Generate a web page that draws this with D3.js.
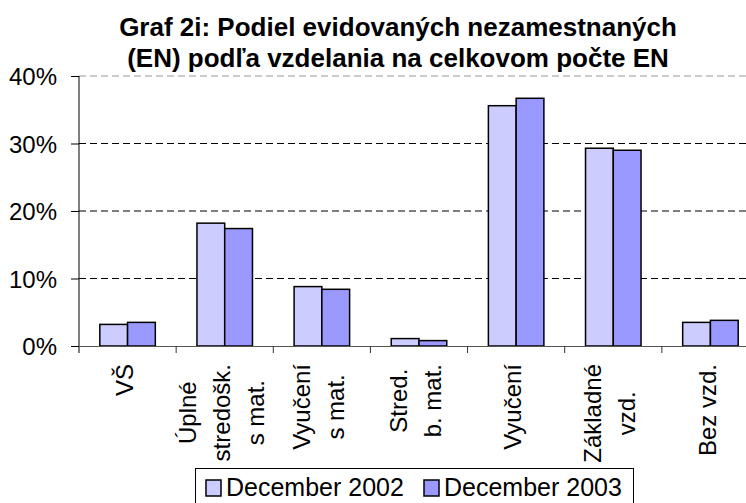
<!DOCTYPE html>
<html>
<head>
<meta charset="utf-8">
<script src="https://cdn.jsdelivr.net/npm/d3@7"></script>
<style>
  body { margin: 0; background: #fff; }
  text { font-family: "Liberation Sans", Arial, sans-serif; fill: #000; }
</style>
</head>
<body>
<div class="chart"></div>
<script>
const categories = [
  ['VŠ'],
  ['Úplné', 'stredošk.', 's mat.'],
  ['Vyučení', 's mat.'],
  ['Stred.', 'b. mat.'],
  ['Vyučení'],
  ['Základné', 'vzd.'],
  ['Bez vzd.']
]
const seriesNames = ['December 2002', 'December 2003']
const dec2002 = [3.2, 18.2, 8.8, 1.1, 35.6, 29.3, 3.5]
const dec2003 = [3.5, 17.4, 8.4, 0.8, 36.7, 29.0, 3.8]
const yTicks = [0, 10, 20, 30, 40]
const colors = ['#ccccff', '#9999ff']

// SETUP
const fullWidth = 746
const fullHeight = 503
const plot = { left: 79, right: 759, top: 76, bottom: 346 }

const svg = d3.select('.chart')
  .append('svg')
    .attr('width', fullWidth)
    .attr('height', fullHeight)

// SCALES
const keys = categories.map((c, i) => i)
const xScale = d3.scaleBand()
  .domain(keys)
  .range([plot.left, plot.right])
  .paddingInner(0)
  .paddingOuter(0)
const inner = d3.scaleBand()
  .domain([0, 1])
  .range([0, xScale.bandwidth()])
  .paddingOuter(0.75)
  .paddingInner(0)
const yScale = d3.scaleLinear()
  .domain([0, 40])
  .range([plot.bottom, plot.top])

// GRIDLINES
svg.append('g')
  .selectAll('line')
  .data(yTicks.filter(d => d > 0))
  .enter()
  .append('line')
    .attr('x1', plot.left)
    .attr('x2', fullWidth)
    .attr('y1', d => yScale(d))
    .attr('y2', d => yScale(d))
    .attr('stroke', d => d === 40 ? '#999' : '#000')
    .attr('stroke-width', 1)
    .attr('stroke-dasharray', '7,4')

// Y AXIS
const yAxis = d3.axisLeft(yScale)
  .tickValues(yTicks)
  .tickFormat(d => d + '%')
  .tickSize(8)
const yg = svg.append('g')
  .attr('transform', `translate(${plot.left},0)`)
  .call(yAxis)
yg.select('.domain').remove()
yg.selectAll('.tick line').attr('stroke', '#000')
yg.selectAll('text')
  .style('font-size', '24px')
  .attr('x', -22)
  .attr('dy', '0.36em')

// BARS
const series = [dec2002, dec2003]
series.forEach((vals, s) => {
  svg.append('g')
    .selectAll('rect')
    .data(vals)
    .enter()
    .append('rect')
      .attr('x', (d, i) => xScale(i) + inner(s))
      .attr('y', d => yScale(d))
      .attr('width', inner.bandwidth())
      .attr('height', d => plot.bottom - yScale(d))
      .attr('fill', colors[s])
      .attr('stroke', '#000')
      .attr('stroke-width', 1.5)
})

// AXIS LINES
svg.append('line')
  .attr('x1', plot.left).attr('x2', plot.left)
  .attr('y1', plot.top).attr('y2', plot.bottom + 7)
  .attr('stroke', '#000')
const xAxis = d3.axisBottom(xScale)
  .tickValues([])
  .tickSizeOuter(0)
const xg = svg.append('g')
  .attr('transform', `translate(0,${plot.bottom})`)
  .call(xAxis)
xg.select('.domain').attr('stroke', '#555')
xg.selectAll('line.sep')
  .data(keys.slice(1))
  .enter()
  .append('line')
    .attr('class', 'sep')
    .attr('x1', d => xScale(d)).attr('x2', d => xScale(d))
    .attr('y1', 0).attr('y2', 7)
    .attr('stroke', '#333')

// CATEGORY LABELS (rotated, lines centred in a block)
const lh = 34
const labelTop = 364
categories.forEach((lines, i) => {
  const cx = xScale(i) + xScale.bandwidth() / 2 - 5
  const g = svg.append('g')
  const texts = g.selectAll('text')
    .data(lines)
    .enter()
    .append('text')
      .style('font-size', '24px')
      .attr('text-anchor', 'middle')
      .text(d => d)
  const maxLen = d3.max(texts.nodes(), n => n.getComputedTextLength())
  const yMid = labelTop + maxLen / 2
  texts.attr('transform', (d, j) => {
    const x = cx - lines.length * lh / 2 + j * lh + 0.8 * lh
    return `translate(${x},${yMid}) rotate(-90)`
  })
})

// TITLE
const title = svg.append('text')
  .attr('text-anchor', 'middle')
  .style('font-size', '26px')
  .style('font-weight', 'bold')
title.append('tspan').attr('x', 398).attr('y', 36).text('Graf 2i: Podiel evidovaných nezamestnaných')
title.append('tspan').attr('x', 398).attr('y', 67).text('(EN) podľa vzdelania na celkovom počte EN')

// LEGEND
const legend = svg.append('g')
legend.append('rect')
  .attr('x', 195.5).attr('y', 468.5)
  .attr('width', 438).attr('height', 50)
  .attr('fill', '#fff')
  .attr('stroke', '#000')
const itemX = [206, 424]
seriesNames.forEach((name, s) => {
  legend.append('rect')
    .attr('x', itemX[s]).attr('y', 480)
    .attr('width', 15).attr('height', 16)
    .attr('fill', colors[s])
    .attr('stroke', '#000')
    .attr('stroke-width', 1.5)
  legend.append('text')
    .attr('x', itemX[s] + 20).attr('y', 496)
    .style('font-size', '25px')
    .text(name)
})
</script>
</body>
</html>
